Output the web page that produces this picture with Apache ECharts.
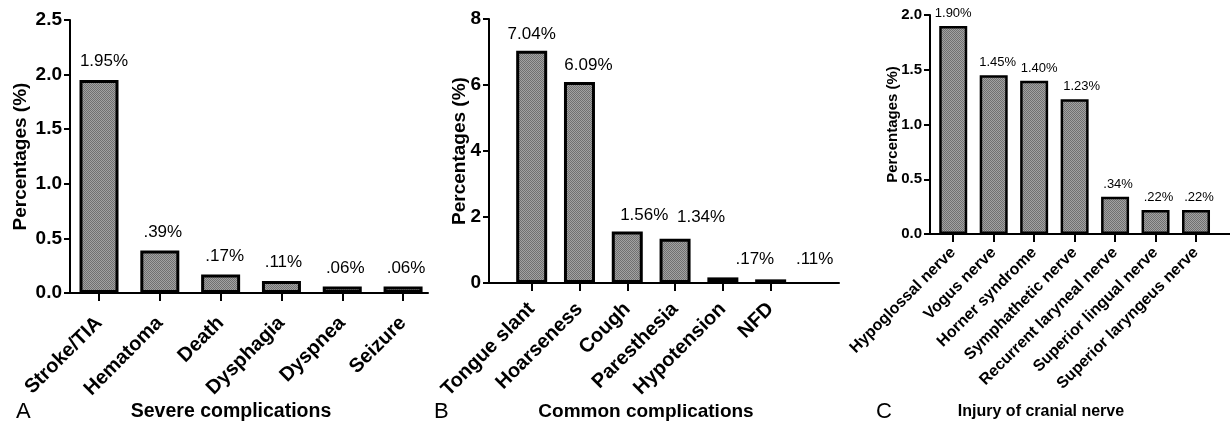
<!DOCTYPE html>
<html>
<head>
<meta charset="utf-8">
<script src="https://cdn.jsdelivr.net/npm/echarts@6/dist/echarts.min.js"></script>
<style>
html,body{margin:0;padding:0;background:#fff;}
#c{width:1230px;height:433px;}
</style>
</head>
<body>
<div id="c"></div>
<script>
// ---- data ----
var catsA = ['Stroke/TIA', 'Hematoma', 'Death', 'Dysphagia', 'Dyspnea', 'Seizure'];
var valsA = [1.95, 0.39, 0.17, 0.11, 0.06, 0.06];
var catsB = ['Tongue slant', 'Hoarseness', 'Cough', 'Paresthesia', 'Hypotension', 'NFD'];
var valsB = [7.04, 6.09, 1.56, 1.34, 0.17, 0.11];
var catsC = ['Hypoglossal nerve', 'Vogus nerve', 'Horner syndrome', 'Symphathetic nerve', 'Recurrent laryneal nerve', 'Superior lingual nerve', 'Superior laryngeus nerve'];
var valsC = [1.90, 1.45, 1.40, 1.23, 0.34, 0.22, 0.22];
var ticksA = [0, 0.5, 1.0, 1.5, 2.0, 2.5];
var ticksB = [0, 2, 4, 6, 8];
var ticksC = [0, 0.5, 1.0, 1.5, 2.0];

// label nudges (px) - styling only
var shiftA = [[5,0],[3,0],[4,0],[2,0],[3,0],[3,0]];
var shiftB = [[0,0],[9,0],[17,0],[26,-5],[32,-2],[44,-4]];
var shiftC = [[0,0],[4,0],[5,0],[7,0],[3,0],[3,0],[3,0]];

// ---- fill pattern ----
function makePattern(){
  var cv = document.createElement('canvas');
  cv.width = 2; cv.height = 2;
  var ctx = cv.getContext('2d');
  ctx.fillStyle = '#a2a2a2'; ctx.fillRect(0,0,2,2);
  ctx.fillStyle = '#707070'; ctx.fillRect(0,0,1,1); ctx.fillRect(1,1,1,1);
  return {image: cv, repeat: 'repeat'};
}
var pat = makePattern();

var FONT = 'Liberation Sans, Arial, sans-serif';
function idx(n){ var a=[]; for(var i=0;i<n;i++) a.push(i); return a; }
function pctLabel(v){ return v.toFixed(2).replace(/^0/, '') + '%'; }

function xAx(gi, cats, min, max, fs, margin){
  return {
    type: 'value', gridIndex: gi, min: min, max: max,
    splitLine: {show: false},
    axisLine: {show: true, onZero: false, lineStyle: {color: '#000', width: 2}},
    axisTick: {show: true, length: 8, lineStyle: {color: '#000', width: 2}, customValues: idx(cats.length)},
    axisLabel: {
      show: true, rotate: 45, margin: margin, customValues: idx(cats.length),
      fontFamily: FONT, fontWeight: 'bold', fontSize: fs, color: '#000',
      formatter: function(v){ return cats[Math.round(v)] || ''; }
    }
  };
}
function yAx(gi, ticks, fs, dec, name, nfs, gap){
  return {
    type: 'value', gridIndex: gi, min: ticks[0], max: ticks[ticks.length-1],
    interval: ticks[1]-ticks[0],
    splitLine: {show: false},
    axisLine: {show: true, onZero: false, lineStyle: {color: '#000', width: 2}},
    axisTick: {show: true, length: 6, lineStyle: {color: '#000', width: 2}},
    axisLabel: {margin: 8, fontFamily: FONT, fontWeight: 'bold', fontSize: fs, color: '#000',
      formatter: function(v){ return v.toFixed(dec); }},
    name: name, nameLocation: 'middle', nameGap: gap, nameRotate: 90, nameMoveOverlap: false,
    nameTextStyle: {fontFamily: FONT, fontWeight: 'bold', fontSize: nfs, color: '#000'}
  };
}
function barSeries(gi, vals, shifts, bw, bwid, fs, dist){
  return {
    type: 'bar', xAxisIndex: gi, yAxisIndex: gi, barWidth: bw,
    itemStyle: {color: pat, borderColor: '#000', borderWidth: bwid},
    data: vals.map(function(v, i){
      return {value: [i, v], label: {offset: shifts[i]}};
    }),
    label: {show: true, position: 'top', distance: dist, fontFamily: FONT, fontSize: fs, color: '#000',
      formatter: function(p){ return pctLabel(p.value[1]); }},
    silent: true, animation: false
  };
}

var chart = echarts.init(document.getElementById('c'), null, {renderer: 'canvas'});
chart.setOption({
  animation: false,
  grid: [
    {left: 70, top: 20, width: 358, height: 273},
    {left: 489, top: 19, width: 350, height: 264},
    {left: 930, top: 15, width: 310, height: 219}
  ],
  xAxis: [
    xAx(0, catsA, -0.477, 5.41, 20, 27),
    xAx(1, catsB, -0.893, 6.43, 20, 23),
    xAx(2, catsC, -0.574, 6.84, 16, 16)
  ],
  yAxis: [
    yAx(0, ticksA, 19, 1, 'Percentages (%)', 19, 40),
    yAx(1, ticksB, 19, 0, 'Percentages (%)', 19, 20),
    yAx(2, ticksC, 15, 1, 'Percentages (%)', 15, 30)
  ],
  series: [
    barSeries(0, valsA, shiftA, 39, 3, 17, 10),
    barSeries(1, valsB, shiftB, 31, 3, 17, 8),
    barSeries(2, valsC, shiftC, 28, 2.5, 13, 6)
  ],
  title: [
    {text: 'Severe complications', left: 231, top: 402, textAlign: 'center', padding: 0,
      textStyle: {fontFamily: FONT, fontWeight: 'bold', fontSize: 19.5, color: '#000'}},
    {text: 'Common complications', left: 646, top: 402, textAlign: 'center', padding: 0,
      textStyle: {fontFamily: FONT, fontWeight: 'bold', fontSize: 19, color: '#000'}},
    {text: 'Injury of cranial nerve', left: 1041, top: 404, textAlign: 'center', padding: 0,
      textStyle: {fontFamily: FONT, fontWeight: 'bold', fontSize: 16, color: '#000'}},
    {text: 'A', left: 16, top: 401, padding: 0, textStyle: {fontFamily: FONT, fontWeight: 'normal', fontSize: 22, color: '#000'}},
    {text: 'B', left: 434, top: 401, padding: 0, textStyle: {fontFamily: FONT, fontWeight: 'normal', fontSize: 22, color: '#000'}},
    {text: 'C', left: 876, top: 401, padding: 0, textStyle: {fontFamily: FONT, fontWeight: 'normal', fontSize: 22, color: '#000'}}
  ]
});
</script>
</body>
</html>
